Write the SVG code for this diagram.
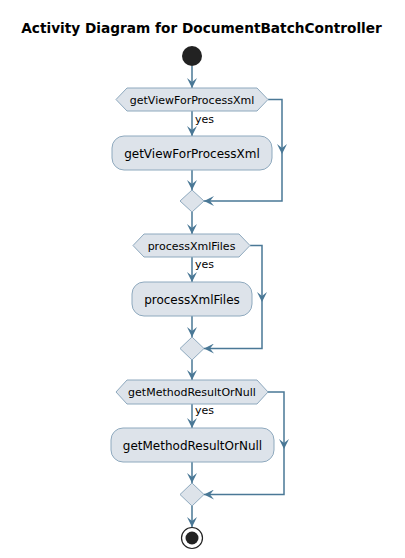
<svg xmlns="http://www.w3.org/2000/svg" width="405" height="558" viewBox="0 0 405 558">
<defs>
<marker id="ah" viewBox="0 0 10 10" refX="10" refY="5" markerWidth="10" markerHeight="10" markerUnits="userSpaceOnUse" orient="auto">
<path d="M0,0 L10,5 L0,10 L4,5 Z" fill="#4A7896"/>
</marker>
<marker id="mh" viewBox="0 0 10 10" refX="6" refY="5" markerWidth="10" markerHeight="10" markerUnits="userSpaceOnUse" orient="auto">
<path d="M0,0 L10,5 L0,10 L4,5 Z" fill="#4A7896"/>
</marker>
</defs>
<style>
.t{font-family:"DejaVu Sans",sans-serif;fill:#000}
.title{font-size:13.7px;font-weight:bold}
.act{font-size:12px}
.cond{font-size:11px}
.lbl{font-size:11px}
.shape{fill:#DDE3EA;stroke:#8EA9BE;stroke-width:1}
.edge{fill:none;stroke:#4A7896;stroke-width:1.5}
</style>
<rect width="405" height="558" fill="#fff"/>
<text class="t title" x="201.5" y="33" text-anchor="middle">Activity Diagram for DocumentBatchController</text>
<g id="connectors">
<line class="edge" x1="192" y1="66" x2="192" y2="88" marker-end="url(#ah)"/>
<line class="edge" x1="192" y1="111" x2="192" y2="136" marker-end="url(#ah)"/>
<line class="edge" x1="192" y1="170" x2="192" y2="190" marker-end="url(#ah)"/>
<polyline class="edge" points="268,99.5 282,99.5 282,150" marker-end="url(#mh)"/>
<polyline class="edge" points="282,148 282,201 204,201" marker-end="url(#ah)"/>
<line class="edge" x1="192" y1="212" x2="192" y2="234" marker-end="url(#ah)"/>
<line class="edge" x1="192" y1="257" x2="192" y2="282" marker-end="url(#ah)"/>
<line class="edge" x1="192" y1="316" x2="192" y2="337" marker-end="url(#ah)"/>
<polyline class="edge" points="250,245.5 262,245.5 262,298" marker-end="url(#mh)"/>
<polyline class="edge" points="262,296 262,348.5 204,348.5" marker-end="url(#ah)"/>
<line class="edge" x1="192" y1="360" x2="192" y2="380" marker-end="url(#ah)"/>
<line class="edge" x1="192" y1="404" x2="192" y2="428" marker-end="url(#ah)"/>
<line class="edge" x1="192" y1="462" x2="192" y2="483" marker-end="url(#ah)"/>
<polyline class="edge" points="268,392 284,392 284,445" marker-end="url(#mh)"/>
<polyline class="edge" points="284,443 284,494.5 204,494.5" marker-end="url(#ah)"/>
<line class="edge" x1="192" y1="506" x2="192" y2="527" marker-end="url(#ah)"/>
<text class="t lbl" x="195" y="123">yes</text>
<text class="t lbl" x="195" y="268">yes</text>
<text class="t lbl" x="195" y="414">yes</text>
</g>
<g id="start"><circle cx="192" cy="56" r="10" fill="#222"/></g>
<g id="if1">
<polygon class="shape" points="116,99.5 127,88 257,88 268,99.5 257,111 127,111"/>
<text class="t cond" x="192" y="103.5" text-anchor="middle">getViewForProcessXml</text>
</g>
<g id="act1">
<rect class="shape" x="112" y="136" width="160" height="34" rx="12"/>
<text class="t act" x="192" y="157.5" text-anchor="middle">getViewForProcessXml</text>
</g>
<g id="merge1"><polygon class="shape" points="192,190 204,201 192,212 180,201"/></g>
<g id="if2">
<polygon class="shape" points="133,245.5 144,234 239,234 250,245.5 239,257 144,257"/>
<text class="t cond" x="191.5" y="249.5" text-anchor="middle">processXmlFiles</text>
</g>
<g id="act2">
<rect class="shape" x="132" y="282" width="120" height="34" rx="12"/>
<text class="t act" x="192" y="303.5" text-anchor="middle">processXmlFiles</text>
</g>
<g id="merge2"><polygon class="shape" points="192,337 204,348.5 192,360 180,348.5"/></g>
<g id="if3">
<polygon class="shape" points="116,392 127,380 257,380 268,392 257,404 127,404"/>
<text class="t cond" x="192" y="396" text-anchor="middle">getMethodResultOrNull</text>
</g>
<g id="act3">
<rect class="shape" x="111" y="428" width="163" height="34" rx="12"/>
<text class="t act" x="192.5" y="449.5" text-anchor="middle">getMethodResultOrNull</text>
</g>
<g id="merge3"><polygon class="shape" points="192,483 204,494.5 192,506 180,494.5"/></g>
<g id="end">
<circle cx="192" cy="538" r="10.5" fill="none" stroke="#222" stroke-width="1.2"/>
<circle cx="192" cy="538" r="6.5" fill="#222"/>
</g>
</svg>
